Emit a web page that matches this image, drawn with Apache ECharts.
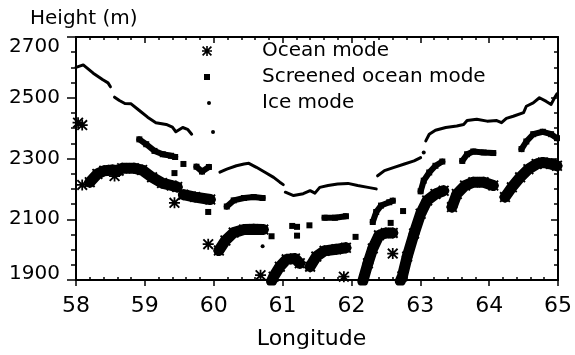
<!DOCTYPE html>
<html>
<head>
<meta charset="utf-8">
<script src="https://cdn.jsdelivr.net/npm/echarts@6/dist/echarts.min.js"></script>
<style>html,body{margin:0;padding:0;background:#fff;}#c{width:575px;height:355px;}</style>
</head>
<body>
<div id="c"></div>
<script>
// ---- Data (longitude, height in m) ----
const xTicks = [58, 59, 60, 61, 62, 63, 64, 65];
const yTicks = [1900, 2100, 2300, 2500, 2700];

// Ocean mode: dense runs of asterisks (bands) and isolated asterisks
const oceanBand1 = [[58.20,2222],[58.31,2249],[58.41,2260],[58.53,2262],[58.62,2260]];
const oceanBand2 = [[58.67,2268],[58.84,2268],[58.96,2262],[59.105,2238],[59.25,2219],[59.39,2211],[59.47,2206]];
const oceanBand3 = [[59.56,2181],[59.73,2173],[59.95,2165]];
const oceanBand4 = [[60.075,1997],[60.17,2030],[60.29,2056],[60.44,2066],[60.58,2067],[60.72,2066]];
const oceanBand5 = [[60.84,1896],[60.87,1911],[60.96,1944],[61.06,1968],[61.18,1971],[61.25,1955]];
const oceanBand6 = [[61.40,1944],[61.49,1977],[61.61,1996],[61.78,2001],[61.92,2006]];
const oceanBand7 = [[62.165,1896],[62.24,1955],[62.31,2004],[62.40,2047],[62.50,2055],[62.60,2055]];
const oceanBand8 = [[62.71,1896],[62.74,1912],[62.81,1977],[62.91,2053],[63.005,2118],[63.10,2162],[63.22,2183],[63.34,2194]];
const oceanBand9 = [[63.46,2140],[63.53,2183],[63.65,2211],[63.77,2222],[63.92,2222],[64.06,2211]];
const oceanBand10 = [[64.23,2173],[64.33,2205],[64.45,2238],[64.57,2265],[64.69,2282],[64.78,2287],[64.90,2282],[64.985,2276]];
const oceanSingles = [[58.03,2418],[58.09,2410],[58.09,2213],[58.56,2242],[59.43,2154],[59.92,2018],[60.68,1916],[61.89,1911],[62.60,1987]];

// Screened ocean mode: runs of squares and isolated squares
const screenedBand1 = [[58.92,2363],[59.02,2347],[59.14,2325],[59.26,2314],[59.38,2309],[59.44,2305]];
const screenedBand2 = [[59.75,2273],[59.83,2257],[59.93,2272]];
const screenedBand3 = [[60.19,2142],[60.29,2162],[60.44,2170],[60.58,2173],[60.71,2170]];
const screenedBand4 = [[61.61,2105],[61.76,2105],[61.92,2110]];
const screenedBand5 = [[62.31,2091],[62.36,2124],[62.43,2145],[62.55,2156],[62.60,2161]];
const screenedBand6 = [[63.005,2192],[63.05,2227],[63.13,2254],[63.22,2276],[63.32,2290]];
const screenedBand7 = [[63.61,2292],[63.68,2314],[63.77,2323],[63.92,2320],[64.06,2318]];
const screenedBand8 = [[64.47,2331],[64.54,2356],[64.64,2380],[64.78,2388],[64.90,2380],[64.985,2367]];
const screenedSingles = [[59.43,2252],[59.56,2282],[59.92,2124],[60.84,2044],[61.14,2078],[61.21,2075],[61.21,2046],[61.39,2080],[62.06,2042],[62.57,2088],[62.75,2127]];

// Ice mode: near-continuous runs of small dots and isolated dots
const iceRun1 = [[58.00,2600],[58.105,2608],[58.25,2581],[58.39,2559],[58.465,2549],[58.50,2536]];
const iceRun2 = [[58.56,2502],[58.63,2491],[58.71,2481],[58.80,2480],[58.92,2458],[59.04,2436],[59.16,2418],[59.31,2412],[59.40,2403],[59.45,2388],[59.55,2402],[59.62,2396],[59.68,2380]];
const iceRun3 = [[60.09,2255],[60.19,2265],[60.33,2276],[60.44,2282],[60.51,2284],[60.62,2271],[60.75,2254],[60.87,2238],[60.96,2222],[61.01,2214]];
const iceRun4 = [[61.04,2189],[61.16,2178],[61.30,2184],[61.40,2194],[61.47,2186],[61.54,2205],[61.66,2211],[61.80,2216],[61.95,2218],[62.09,2211],[62.24,2205],[62.36,2200]];
const iceRun5 = [[62.38,2243],[62.48,2260],[62.62,2271],[62.77,2282],[62.91,2292],[63.005,2303]];
const iceRun6 = [[63.08,2358],[63.13,2380],[63.22,2393],[63.37,2402],[63.53,2407],[63.63,2412],[63.68,2425],[63.82,2429],[63.97,2423],[64.11,2425],[64.18,2418],[64.25,2432],[64.35,2439],[64.50,2451],[64.54,2472],[64.64,2483],[64.73,2500],[64.83,2488],[64.90,2478],[64.95,2500],[64.985,2513]];
const iceSingles = [[59.99,2387],[60.71,2011],[63.05,2320]];

const seriesNames = ['Ocean mode', 'Screened ocean mode', 'Ice mode'];

// ---- Styling ----
const FONT = 'DejaVu Sans';
const ASTERISK = 'path://M0 4.2L10 4.2L10 5.8L0 5.8Z M4.2 0L5.8 0L5.8 10L4.2 10Z M0 1.2L1.2 0L10 8.8L8.8 10Z M8.8 0L10 1.2L1.2 10L0 8.8Z';
const SQUARE = 'path://M0 0L10 0L10 10L0 10Z';

const oceanBands = [oceanBand1, oceanBand2, oceanBand3, oceanBand4, oceanBand5, oceanBand6, oceanBand7, oceanBand8, oceanBand9, oceanBand10];
const screenedBands = [screenedBand1, screenedBand2, screenedBand3, screenedBand4, screenedBand5, screenedBand6, screenedBand7, screenedBand8];
const iceRuns = [iceRun1, iceRun2, iceRun3, iceRun4, iceRun5, iceRun6];

const series = [];
function addScatter(name, data, symbol, size, z) {
  series.push({ name, type: 'scatter', data, symbol, symbolSize: size,
    itemStyle: { color: '#000', opacity: 1 }, z, silent: true, animation: false });
}
function addRun(name, data, width, symbol, size, z) {
  series.push({
    name, type: 'line', data, smooth: false, z, silent: true, animation: false,
    lineStyle: { color: '#000', width, cap: 'round', join: 'round', opacity: 1 },
    itemStyle: { color: '#000', opacity: 1 },
    symbol, symbolSize: size, showSymbol: symbol !== 'none', showAllSymbol: true
  });
}
addScatter(seriesNames[0], oceanSingles, ASTERISK, 11, 3);
oceanBands.forEach(b => addRun(seriesNames[0], b, 11, ASTERISK, 11, 3));
addScatter(seriesNames[1], screenedSingles, SQUARE, 6, 4);
screenedBands.forEach(b => addRun(seriesNames[1], b, 6, SQUARE, 6, 4));
addScatter(seriesNames[2], iceSingles, 'circle', 4, 5);
iceRuns.forEach(b => addRun(seriesNames[2], b, 3, 'none', 0, 5));

const axisLineStyle = { color: '#000', width: 2 };
const tickLine = { color: '#000', width: 1.5 };
const labelStyle = { color: '#000', fontFamily: FONT };

function legendRow(name, icon, size, centerX, top, textX) {
  const left = centerX - size / 2;
  return {
    data: [{ name, icon, itemStyle: { opacity: 1 } }], left, top, padding: 0, itemWidth: size, itemHeight: size,
    selectedMode: false,
    textStyle: { fontSize: 20, color: '#000', fontFamily: FONT, padding: [0, 0, 0, textX - (left + size + 5)] }
  };
}

const chart = echarts.init(document.getElementById('c'), null, { renderer: 'canvas' });
chart.setOption({
  backgroundColor: '#fff',
  animation: false,
  grid: { left: 76, right: 13, top: 37, bottom: 73, containLabel: false },
  legend: [
    legendRow(seriesNames[0], ASTERISK, 10, 207, 41, 262),
    legendRow(seriesNames[1], SQUARE, 6, 207, 67, 262),
    legendRow(seriesNames[2], 'circle', 4, 209, 93, 262)
  ],
  graphic: [
    { type: 'text', left: 30, top: 9, silent: true,
      style: { text: 'Height (m)', fill: '#000', font: '20px "DejaVu Sans"' } }
  ],
  xAxis: [
    { type: 'value', min: xTicks[0], max: xTicks[xTicks.length - 1], interval: 1, position: 'bottom',
      axisLine: { show: true, lineStyle: axisLineStyle },
      axisTick: { show: true, length: 6, lineStyle: tickLine },
      minorTick: { show: false },
      splitLine: { show: false },
      axisLabel: Object.assign({ fontSize: 22, margin: 15, formatter: v => String(v) }, labelStyle),
      name: 'Longitude', nameLocation: 'middle', nameGap: 48,
      nameTextStyle: { fontSize: 22, color: '#000', fontFamily: FONT, padding: [0, 11, 0, 0] } },
    { type: 'value', min: xTicks[0], max: xTicks[xTicks.length - 1], interval: 1, position: 'bottom',
      axisLine: { show: false }, axisTick: { show: false, inside: true },
      minorTick: { show: true, splitNumber: 5, length: 3, lineStyle: tickLine },
      splitLine: { show: false }, axisLabel: { show: false } },
    { type: 'value', min: xTicks[0], max: xTicks[xTicks.length - 1], interval: 1, position: 'top',
      axisLine: { show: true, lineStyle: axisLineStyle },
      axisTick: { show: true, inside: true, length: 6, lineStyle: tickLine },
      minorTick: { show: true, splitNumber: 5, length: 3, lineStyle: tickLine },
      splitLine: { show: false }, axisLabel: { show: false } }
  ],
  yAxis: [
    { type: 'value', min: yTicks[0], max: yTicks[yTicks.length - 1], interval: 200, position: 'left',
      axisLine: { show: true, lineStyle: axisLineStyle },
      axisTick: { show: true, length: 9, lineStyle: tickLine },
      minorTick: { show: true, splitNumber: 4, length: 5, lineStyle: tickLine },
      splitLine: { show: false },
      axisLabel: Object.assign({ fontSize: 20, margin: 16,
        formatter: v => (v === yTicks[0] ? '{low|' + v + '}' : String(v)),
        rich: { low: { fontSize: 20, color: '#000', fontFamily: FONT, padding: [0, 0, 12, 0] } },
        verticalAlignMaxLabel: 'top' }, labelStyle) },
    { type: 'value', min: yTicks[0], max: yTicks[yTicks.length - 1], interval: 200, position: 'right',
      axisLine: { show: true, lineStyle: axisLineStyle },
      axisTick: { show: true, inside: true, length: 7, lineStyle: tickLine },
      minorTick: { show: true, splitNumber: 4, length: 4, lineStyle: tickLine },
      splitLine: { show: false }, axisLabel: { show: false } }
  ],
  series
});
</script>
</body>
</html>
